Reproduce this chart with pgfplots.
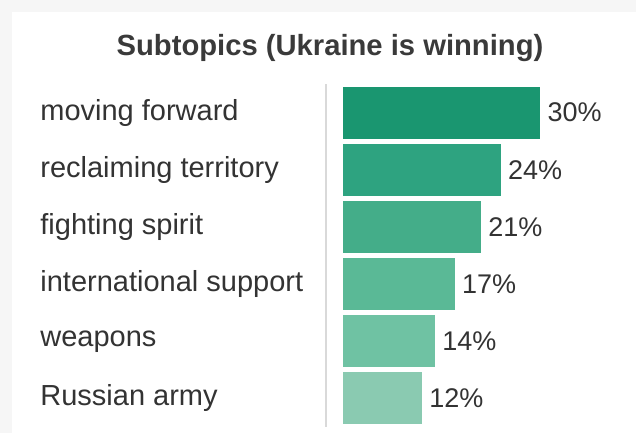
\documentclass[border=0pt]{standalone}
\usepackage{fontspec}
\setmainfont{Liberation Sans}
\usepackage{pgfplots}
\pgfplotsset{compat=1.18}
\definecolor{txt}{HTML}{333333}
\definecolor{titlec}{HTML}{3A3A3A}
\definecolor{cardbg}{HTML}{F6F6F6}
\definecolor{vline}{HTML}{D9D9D9}
\definecolor{g1}{HTML}{1A9670}
\definecolor{g2}{HTML}{2EA380}
\definecolor{g3}{HTML}{44AD89}
\definecolor{g4}{HTML}{5AB996}
\definecolor{g5}{HTML}{6FC2A3}
\definecolor{g6}{HTML}{8ACAB1}
\begin{document}
\begin{tikzpicture}
% 1 px of the reference = 0.5pt; axis lower left sits at px (326,427)
\fill[cardbg] (-163pt,-3pt) rectangle (155pt,213.5pt);
\fill[white] (-157pt,-3pt) rectangle (155pt,207.5pt);
\begin{axis}[
    scale only axis,
    width=147pt, height=171.5pt,
    xmin=-2.59, xmax=42.16,
    ymin=-0.5, ymax=5.5,
    y dir=reverse,
    xbar, bar width=26pt,
    hide x axis,
    axis y line*=left,
    y axis line style={draw=vline, line width=0.75pt},
    major tick length=0pt,
    ytick={0,1,2,3,4,5},
    yticklabels={moving forward, reclaiming territory, fighting spirit, international support, weapons, Russian army},
    yticklabel style={anchor=west, xshift=-143pt, inner sep=0pt, font=\fontsize{14.5}{16}\selectfont, text=txt},
    every axis plot/.append style={bar shift=0pt, draw=none},
    point meta=x,
    /pgf/number format/assume math mode=true,
    nodes near coords={\pgfmathprintnumber{\pgfplotspointmeta}\%},
    every node near coord/.append style={anchor=west, inner sep=0pt, xshift=3.5pt, font=\fontsize{13.5}{15}\selectfont, text=txt},
]
\addplot[fill=g1] coordinates {(30,0)};
\addplot[fill=g2] coordinates {(24,1)};
\addplot[fill=g3] coordinates {(21,2)};
\addplot[fill=g4] coordinates {(17,3)};
\addplot[fill=g5] coordinates {(14,4)};
\addplot[fill=g6] coordinates {(12,5)};
\end{axis}
\node[font=\bfseries\fontsize{14.6}{16}\selectfont, text=titlec] at (2pt,189.5pt) {Subtopics (Ukraine is winning)};
\pgfresetboundingbox
\path[use as bounding box] (-163pt,-3pt) rectangle (155pt,213.5pt);
\end{tikzpicture}
\end{document}
